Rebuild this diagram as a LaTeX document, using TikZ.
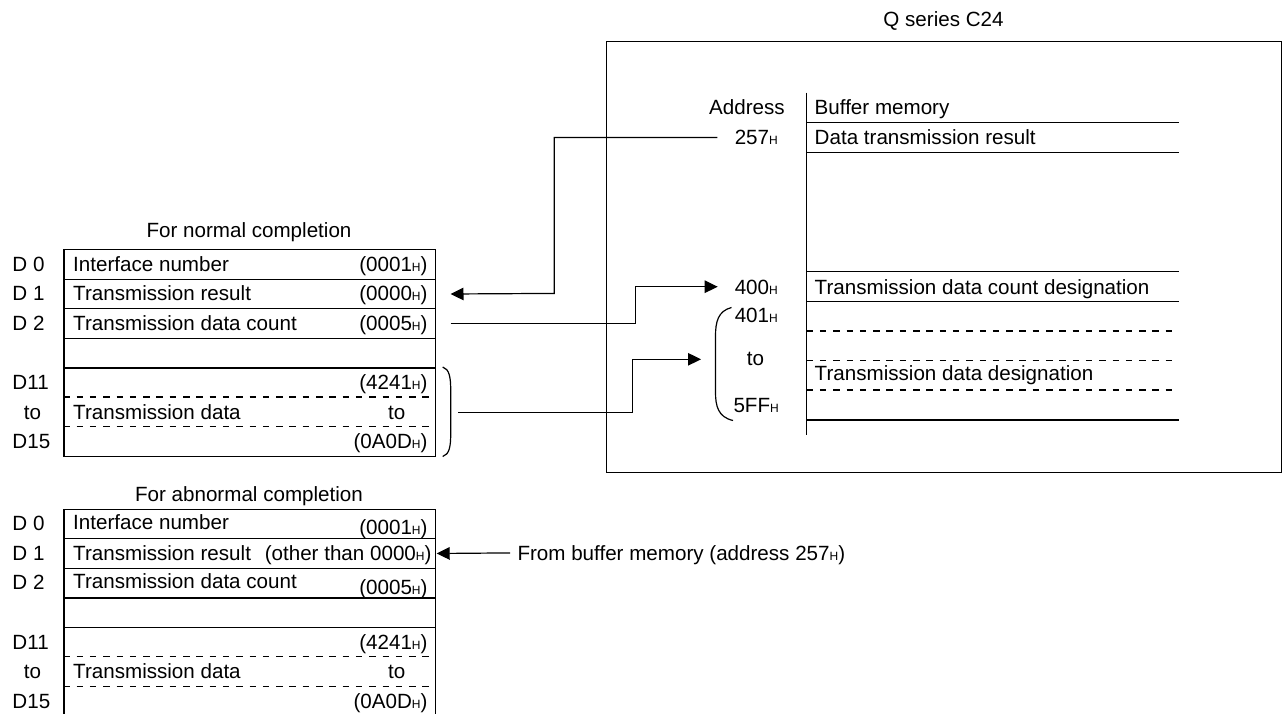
\documentclass[tikz,border=0pt]{standalone}
\usepackage{fontspec}
\setmainfont{Liberation Sans}
\usetikzlibrary{arrows.meta}
\newcommand{\hsub}{{\fontsize{12}{12}\selectfont H}}
\tikzset{
  lbl/.style={font=\fontsize{20.6}{24}\selectfont, inner sep=0pt, text height=14.8pt, text depth=0pt},
  cell/.style={draw, line width=1.2pt, minimum width=371.7pt, minimum height=29.6pt, inner sep=0pt, anchor=north west},
  arr/.style={line width=1.2pt, -{Triangle[length=13pt,width=12.5pt]}},
  dsh/.style={line width=1.2pt, dash pattern=on 6.5pt off 6.8pt},
  sol/.style={line width=1.2pt},
}
\begin{document}
\begin{tikzpicture}[x=1pt,y=-1pt]
\useasboundingbox (0,0) rectangle (1282,713);

% ---------------- top table ----------------
\node[lbl] (tnorm) at (249,230) {For normal completion};
\node[cell] (t0) at (63.3,249) {};
\node[cell] (t1) at (63.3,278.6) {};
\node[cell] (t2) at (63.3,308.2) {};
\node[cell] (t3) at (63.3,337.8) {};
\node[cell, minimum height=88.8pt] (td) at (63.3,367.4) {};
\draw[dsh] (63.3,397) -- (435,397);
\draw[dsh] (63.3,426.6) -- (435,426.6);

\node[lbl, anchor=west] (tl0) at (12.3,263.8) {D 0};
\node[lbl, anchor=west] (tl1) at (12.3,293.4) {D 1};
\node[lbl, anchor=west] (tl2) at (12.3,323) {D 2};
\node[lbl, anchor=west] (tl11) at (12.3,382.2) {D11};
\node[lbl] (tlto) at (32.5,411.8) {to};
\node[lbl, anchor=west] (tl15) at (12.3,441.4) {D15};

\node[lbl, anchor=west] (tn0) at (73,263.8) {Interface number};
\node[lbl, anchor=east] (tv0) at (427.7,263.8) {(0001\hsub)};
\node[lbl, anchor=west] (tn1) at (73,293.4) {Transmission result};
\node[lbl, anchor=east] (tv1) at (427.7,293.4) {(0000\hsub)};
\node[lbl, anchor=west] (tn2) at (73,323) {Transmission data count};
\node[lbl, anchor=east] (tv2) at (427.7,323) {(0005\hsub)};
\node[lbl, anchor=east] (tv11) at (427.7,382.2) {(4241\hsub)};
\node[lbl, anchor=west] (tnd) at (73,411.8) {Transmission data};
\node[lbl] (tvto) at (396.7,411.8) {to};
\node[lbl, anchor=east] (tv15) at (427.7,441.4) {(0A0D\hsub)};

\draw[sol] (442.7,367) .. controls (449.5,369) and (450.7,378) .. (450.7,390)
  -- (450.7,434) .. controls (450.7,446) and (449.5,454.5) .. (442.7,456.5);

% ---------------- Q series C24 ----------------
\node[lbl] (qtitle) at (943.5,19.5) {Q series C24};
\node[draw, line width=1.2pt, inner sep=0pt, anchor=north west,
      minimum width=675pt, minimum height=430.5pt] (qbox) at (605.5,41) {};

\draw[sol] (806.6,92.7) -- (806.6,435);
\draw[sol] (806.6,122.7) -- (1178.5,122.7);
\draw[sol] (806.6,152.7) -- (1178.5,152.7);
\draw[sol] (806.6,271.7) -- (1178.5,271.7);
\draw[sol] (806.6,301.7) -- (1178.5,301.7);
\draw[dsh] (806.6,331) -- (1178.5,331);
\draw[dsh] (806.6,360.7) -- (1178.5,360.7);
\draw[dsh] (806.6,390) -- (1178.5,390);
\draw[sol] (806.6,420) -- (1178.5,420);

\node[lbl, anchor=east] (addr) at (785,106.7) {Address};
\node[lbl, anchor=west] (bufm) at (814.5,106.7) {Buffer memory};
\node[lbl, anchor=east] (a257) at (778,137.5) {257\hsub};
\node[lbl, anchor=west] (b257) at (814.5,137.5) {Data transmission result};
\node[lbl, anchor=east] (a400) at (778,286.7) {400\hsub};
\node[lbl, anchor=west] (b400) at (814.5,286.7) {Transmission data count designation};
\node[lbl, anchor=east] (a401) at (778,315.5) {401\hsub};
\node[lbl] (ato) at (755.5,358.5) {to};
\node[lbl, anchor=east] (a5ff) at (779,405) {5FF\hsub};
\node[lbl, anchor=west] (bdata) at (814.5,373.5) {Transmission data designation};

\draw[sol] (731.5,307.5) .. controls (718,311) and (715.5,322) .. (715.5,336)
  -- (715.5,392) .. controls (715.5,406) and (718,417) .. (733,420.5);

% ---------------- connectors ----------------
\coordinate (s257) at (717.4,137.5);
\coordinate (k257) at (554.3,293.4);
\draw[arr] (s257) -| (k257) -- ([xshift=14.3pt]t1.east);

\coordinate (k400) at (635.7,286.7);
\coordinate (e400) at (717.7,286.7);
\draw[arr] ([xshift=14.3pt]t2.east) -| (k400) -- (e400);

\coordinate (sdat) at (458.3,412.7);
\coordinate (kdat) at (632.3,359.3);
\coordinate (edat) at (701,359.3);
\draw[arr] (sdat) -| (kdat) -- (edat);

% ---------------- bottom table ----------------
\node[lbl] (tabn) at (249,494) {For abnormal completion};
\node[cell] (b0) at (63.3,508.5) {};
\node[cell] (b1) at (63.3,538.1) {};
\node[cell] (b2) at (63.3,567.7) {};
\node[cell] (b3) at (63.3,597.3) {};
\node[cell, minimum height=88.8pt] (bd) at (63.3,626.9) {};
\draw[dsh] (63.3,656.5) -- (435,656.5);
\draw[dsh] (63.3,686.1) -- (435,686.1);

\node[lbl, anchor=west] (bl0) at (12.3,523.3) {D 0};
\node[lbl, anchor=west] (bl1) at (12.3,552.9) {D 1};
\node[lbl, anchor=west] (bl2) at (12.3,582.5) {D 2};
\node[lbl, anchor=west] (bl11) at (12.3,641.7) {D11};
\node[lbl] (blto) at (32.5,671.3) {to};
\node[lbl, anchor=west] (bl15) at (12.3,700.9) {D15};

\node[lbl, anchor=west] (bn0) at (73,522) {Interface number};
\node[lbl, anchor=east] (bv0) at (427.7,527.5) {(0001\hsub)};
\node[lbl, anchor=west] (bn1) at (73,552.9) {Transmission result};
\node[lbl, anchor=east] (bv1) at (431.7,552.9) {(other than 0000\hsub)};
\node[lbl, anchor=west] (bn2) at (73,581.5) {Transmission data count};
\node[lbl, anchor=east] (bv2) at (427.7,587) {(0005\hsub)};
\node[lbl, anchor=east] (bv11) at (427.7,641.7) {(4241\hsub)};
\node[lbl, anchor=west] (bnd) at (73,671.3) {Transmission data};
\node[lbl] (bvto) at (396.7,671.3) {to};
\node[lbl, anchor=east] (bv15) at (427.7,700.9) {(0A0D\hsub)};

\node[lbl, anchor=west] (from) at (517.3,552.9) {From buffer memory (address 257\hsub)};
\draw[arr] ([xshift=-7.3pt]from.west) -- ([xshift=0.5pt]b1.east);
\end{tikzpicture}
\end{document}
